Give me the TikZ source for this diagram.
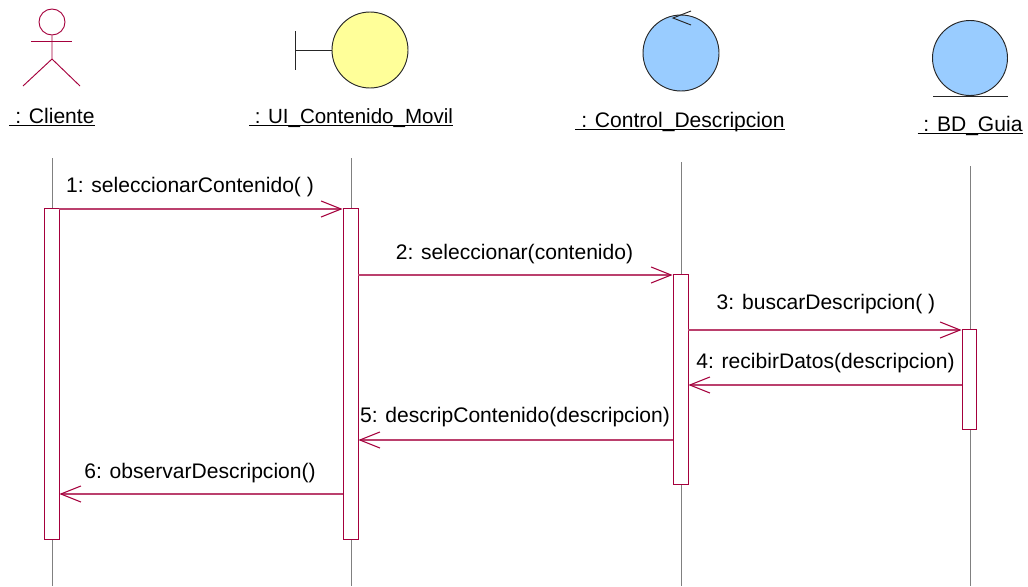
\documentclass[tikz,border=0pt]{standalone}
\usepackage{fontspec}
\setmainfont{Liberation Sans}
\usetikzlibrary{arrows.meta}
\definecolor{umlred}{HTML}{A5003C}
\definecolor{umlyellow}{HTML}{FFFF99}
\definecolor{umlblue}{HTML}{99CCFF}
\newcommand{\objname}[1]{\underline{\smash{#1}}}
\tikzset{
  lifeline/.style={draw=black!50,line width=.7pt},
  activation/.style={draw=umlred,fill=white,line width=.7pt,inner sep=0pt,minimum width=11.25pt},
  msg/.style={draw=umlred!75,line width=.8pt,-{Straight Barb[length=15pt,width=12pt,color=umlred]}},
  msglabel/.style={font=\fontsize{15.8}{18}\selectfont,inner sep=0pt,anchor=base},
  objlabel/.style={font=\fontsize{15.8}{18}\selectfont,inner sep=0pt,anchor=base},
  icon/.style={circle,draw=black!85,line width=.7pt,inner sep=0pt}
}
\begin{document}
\begin{tikzpicture}[x=.75pt,y=-.75pt]
  \useasboundingbox (0,0) rectangle (1028,586);

  % actor
  \node[circle,draw=umlred,line width=.7pt,inner sep=0pt,minimum size=19.5pt] (head) at (52,22) {};
  \draw[umlred,line width=.7pt] (head.south) -- (52,59) -- (23,86);
  \draw[umlred,line width=.7pt] (52,59) -- (80,86);
  \draw[umlred,line width=.7pt] (31,41) -- (72,41);
  \node[objlabel] (cliente) at (52,123) {\objname{\ : Cliente}};

  % boundary
  \node[icon,fill=umlyellow,minimum size=57pt] (ui) at (370,50) {};
  \draw[black!85,line width=.7pt] (ui.west) -- (295,50);
  \draw[black!85,line width=.7pt] (295,31) -- (295,70);
  \node[objlabel,font=\fontsize{15.4}{18}\selectfont] (uilabel) at (351,123) {\objname{\ : UI\_Contenido\_Movil}};

  % control
  \node[icon,fill=umlblue,minimum size=57pt] (control) at (681,53) {};
  \draw[black!85,line width=.7pt] (691,11) -- (673,18) -- (691,25);
  \node[objlabel] (controllabel) at (680,127) {\objname{\ : Control\_Descripcion}};

  % entity
  \node[icon,fill=umlblue,minimum size=56.25pt] (guia) at (970,58) {};
  \draw[black!85,line width=.7pt] (933,96) -- (1008,96);
  \node[objlabel] (guialabel) at (970,131) {\objname{\ : BD\_Guia}};

  % lineas de vida
  \draw[lifeline] (52,158) -- (52,586);
  \draw[lifeline] (351,158) -- (351,586);
  \draw[lifeline] (681,162) -- (681,586);
  \draw[lifeline] (970,166) -- (970,586);

  % activaciones
  \node[activation,minimum height=248.25pt] (barCliente) at (51.5,373.5) {};
  \node[activation,minimum height=248.25pt] (barUI) at (350.5,373.5) {};
  \node[activation,minimum height=157.5pt] (barControl) at (680.5,379) {};
  \node[activation,minimum height=75pt,minimum width=10.5pt] (barGuia) at (969,379) {};

  % mensajes
  \coordinate (m1) at (0,209);
  \coordinate (m2) at (0,275);
  \coordinate (m3) at (0,330);
  \coordinate (m4) at (0,385);
  \coordinate (m5) at (0,440);
  \coordinate (m6) at (0,494);
  \draw[msg] (barCliente.east |- m1) -- (barUI.west |- m1);
  \draw[msg] (barUI.east |- m2) -- (barControl.west |- m2);
  \draw[msg] (barControl.east |- m3) -- (barGuia.west |- m3);
  \draw[msg] (barGuia.west |- m4) -- (barControl.east |- m4);
  \draw[msg] (barControl.west |- m5) -- (barUI.east |- m5);
  \draw[msg] (barUI.west |- m6) -- (barCliente.east |- m6);

  \node[msglabel] (l1) at (190,192) {1: seleccionarContenido( )};
  \node[msglabel] (l2) at (514.5,259) {2: seleccionar(contenido)};
  \node[msglabel] (l3) at (826,309) {3: buscarDescripcion( )};
  \node[msglabel] (l4) at (825.5,368) {4: recibirDatos(descripcion)};
  \node[msglabel] (l5) at (515,422) {5: descripContenido(descripcion)};
  \node[msglabel] (l6) at (200,478) {6: observarDescripcion()};
\end{tikzpicture}
\end{document}
